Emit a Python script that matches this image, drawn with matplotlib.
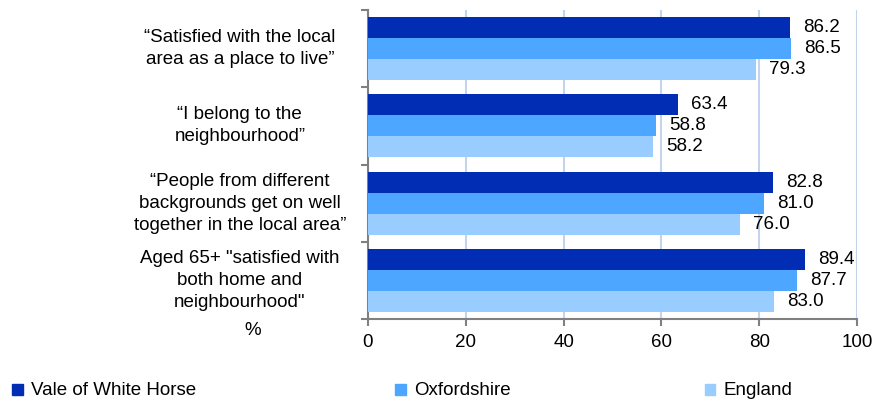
import numpy as np
import matplotlib.pyplot as plt
from matplotlib.patches import Rectangle
from matplotlib.transforms import blended_transform_factory

plt.rcParams['font.family'] = ['Liberation Sans', 'DejaVu Sans']

# 数据
categories = [
    '\u201cSatisfied with the local\narea as a place to live\u201d',
    '\u201cI belong to the\nneighbourhood\u201d',
    '\u201cPeople from different\nbackgrounds get on well\ntogether in the local area\u201d',
    'Aged 65+ "satisfied with\nboth home and\nneighbourhood"',
]
series_names = ['Vale of White Horse', 'Oxfordshire', 'England']
vale = [86.2, 63.4, 82.8, 89.4]
oxon = [86.5, 58.8, 81.0, 87.7]
england = [79.3, 58.2, 76.0, 83.0]
colors = ['#002db3', '#4da6ff', '#99ccff']

FS = 13.5


def main():
    fig = plt.figure(figsize=(8.72, 4.01), dpi=100)
    ax = fig.add_axes([0.422, 0.2045, 0.561, 0.7705])

    y = np.arange(len(categories))
    h = 0.272
    for k, (vals, col) in enumerate(zip([vale, oxon, england], colors)):
        pos = y + (k - 1) * h
        ax.barh(pos, vals, height=h, color=col, zorder=3)
        for p, v in zip(pos, vals):
            ax.annotate('%.1f' % v, (v, p), xytext=(9.5, 0), textcoords='offset points',
                        ha='left', va='center', fontsize=FS)

    ax.set_xlim(0, 100)
    ax.set_ylim(3.5, -0.5)
    ax.set_xticks(np.arange(0, 101, 20))
    ax.tick_params(axis='x', labelsize=FS, color='#808080', length=5, width=1.5, pad=6)
    ax.set_yticks(np.arange(-0.5, 3.6, 1))
    ax.set_yticklabels([])
    ax.tick_params(axis='y', color='#808080', length=5, width=1.5)
    ax.grid(axis='x', color='#c4d4ec', linewidth=1.5, zorder=0)
    for s in ['top', 'right']:
        ax.spines[s].set_visible(False)
    for s in ['left', 'bottom']:
        ax.spines[s].set_color('#808080')
        ax.spines[s].set_linewidth(1.5)

    trans = blended_transform_factory(ax.transAxes, ax.transData)
    for i, c in enumerate(categories):
        ax.text(-0.262, i, c, transform=trans, ha='center', va='center',
                fontsize=FS, linespacing=1.38)
    ax.text(-0.235, 3.65, '%', transform=trans, ha='center', va='center', fontsize=FS)

    # 图例
    xs = [0.014, 0.453, 0.808]
    for x0, name, col in zip(xs, series_names, colors):
        fig.patches.append(Rectangle((x0, 0.015), 0.0125, 0.027, transform=fig.transFigure,
                                     color=col, figure=fig))
        fig.text(x0 + 0.022, 0.026, name, fontsize=FS, va='center', ha='left')

    fig.savefig('out.png', dpi=100)


if __name__ == "__main__":
    main()
